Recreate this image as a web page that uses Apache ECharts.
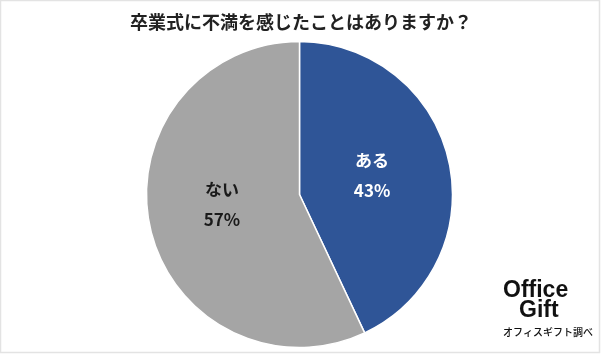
<!DOCTYPE html>
<html>
<head>
<meta charset="utf-8">
<script src="https://cdn.jsdelivr.net/npm/echarts@6/dist/echarts.min.js"></script>
<style>
html,body{margin:0;padding:0;background:#fff;}
#main{width:602px;height:357px;}
</style>
</head>
<body>
<div id="main"></div>
<script>
const titleText = '卒業式に不満を感じたことはありますか？';
const categories = ['ある', 'ない'];
const values = [43, 57];
const colors = ['#2F5597', '#A5A5A5'];
const labelColors = ['#ffffff', '#1a1a1a'];

const chart = echarts.init(document.getElementById('main'), null, {renderer: 'canvas'});
const jp = '"Noto Sans CJK JP", "Noto Sans", sans-serif';
const labelOffsets = [[-5, -2], [0, -7]];

chart.setOption({
  animation: false,
  backgroundColor: '#ffffff',
  title: {
    text: titleText,
    left: 'center',
    top: 8,
    textStyle: {fontFamily: jp, fontSize: 18, fontWeight: 'bold', color: '#222222'}
  },
  graphic: [
    {type: 'rect', shape: {x: 0.5, y: 0.5, width: 599, height: 352}, style: {fill: 'none', stroke: '#e3e3e3', lineWidth: 1.5}, silent: true, z: -1},
    {type: 'text', left: 503, top: 279, style: {text: 'Office', font: 'bold 23px "Liberation Sans", Arial, sans-serif', fill: '#111'}},
    {type: 'text', left: 519, top: 299, style: {text: 'Gift', font: 'bold 23px "Liberation Sans", Arial, sans-serif', fill: '#111'}},
    {type: 'text', left: 503, top: 327, style: {text: 'オフィスギフト調べ', font: '500 10px "Noto Sans CJK JP", sans-serif', fill: '#111'}}
  ],
  series: [{
    type: 'pie',
    center: [299.5, 194.5],
    radius: [0, 153],
    startAngle: 90,
    clockwise: true,
    avoidLabelOverlap: false,
    itemStyle: {borderColor: '#ffffff', borderWidth: 1.5},
    label: {
      show: true,
      position: 'inside',
      formatter: '{b}\n\n{d}%',
      fontFamily: jp,
      fontSize: 17,
      fontWeight: 'bold',
      lineHeight: 15
    },
    labelLine: {show: false},
    data: categories.map((c, i) => ({
      name: c,
      value: values[i],
      itemStyle: {color: colors[i]},
      label: {color: labelColors[i], offset: labelOffsets[i]}
    }))
  }]
});
</script>
</body>
</html>
